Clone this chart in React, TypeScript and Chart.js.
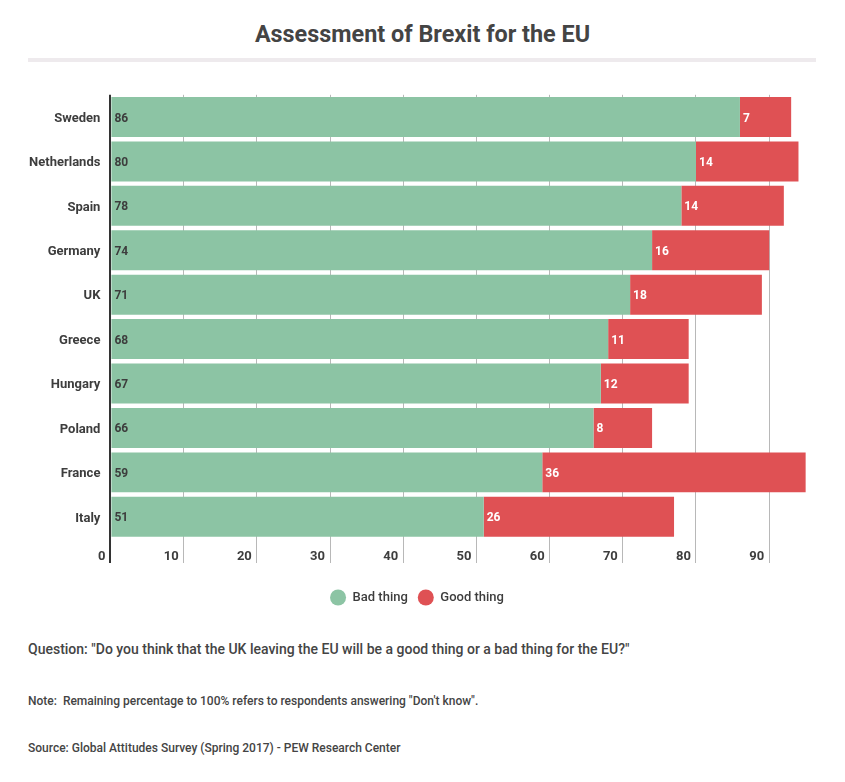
import React, { useEffect, useRef } from "react";
import { Chart, registerables } from "chart.js";

Chart.register(...registerables);

const countries = ["Sweden", "Netherlands", "Spain", "Germany", "UK", "Greece", "Hungary", "Poland", "France", "Italy"];
const badThing = [86, 80, 78, 74, 71, 68, 67, 66, 59, 51];
const goodThing = [7, 14, 14, 16, 18, 11, 12, 8, 36, 26];
const seriesNames = ["Bad thing", "Good thing"];
const xTickValues = [0, 10, 20, 30, 40, 50, 60, 70, 80, 90];
const xMax = 95;

const GREEN = "#8cc4a4";
const RED = "#df5154";
const TEXT = "#3d3d3d";
const FONT = "Roboto";

const valueLabels = {
  id: "valueLabels",
  afterDatasetsDraw(chart: any) {
    const ctx = chart.ctx;
    chart.data.datasets.forEach((ds: any, i: number) => {
      const meta = chart.getDatasetMeta(i);
      if (meta.hidden) return;
      meta.data.forEach((bar: any, j: number) => {
        const props = bar.getProps(["x", "y", "base"], true);
        ctx.save();
        ctx.font = `bold 12px ${FONT}`;
        ctx.fillStyle = i === 0 ? TEXT : "#ffffff";
        ctx.textAlign = "left";
        ctx.textBaseline = "middle";
        ctx.fillText(String(ds.data[j]), Math.min(props.x, props.base) + 3, props.y + 1.5);
        ctx.restore();
      });
    });
  },
};

// centre the legend on the page rather than on the padded chart box
const legendShift = {
  id: "legendShift",
  afterLayout(chart: any) {
    const lg = chart.legend;
    if (!lg) return;
    lg.left = 0;
    lg.right = 834;
    lg.width = 834;
  },
};

export default function App() {
  const canvasRef = useRef<HTMLCanvasElement | null>(null);

  useEffect(() => {
    if (!canvasRef.current) return;
    const chart = new Chart(canvasRef.current, {
      type: "bar",
      data: {
        labels: countries,
        datasets: [
          { label: seriesNames[0], data: badThing, backgroundColor: GREEN, borderWidth: 0 },
          { label: seriesNames[1], data: goodThing, backgroundColor: RED, borderWidth: 0 },
        ],
      },
      options: {
        indexAxis: "y",
        responsive: false,
        animation: false,
        devicePixelRatio: 1,
        layout: { padding: { top: 94.8, right: 39.2, left: 0, bottom: 0 } },
        datasets: { bar: { barPercentage: 0.9, categoryPercentage: 1 } },
        scales: {
          x: {
            stacked: true,
            min: 0,
            max: xMax,
            afterBuildTicks: (s: any) => {
              s.ticks = xTickValues.map((v) => ({ value: v }));
            },
            afterFit: (s: any) => {
              s.height = 42;
            },
            border: { display: false },
            grid: {
              color: (c: any) => (c.tick && c.tick.value === 0 ? "#333333" : "#b8b8b8"),
              lineWidth: (c: any) => (c.tick && c.tick.value === 0 ? 2 : 1),
              tickLength: 24,
            },
            ticks: {
              align: "end",
              labelOffset: -5,
              padding: -14,
              color: TEXT,
              font: { family: FONT, size: 13, weight: "bold" },
            },
          },
          y: {
            stacked: true,
            afterFit: (s: any) => {
              s.width = 110.4;
            },
            border: { display: false },
            grid: { display: false, drawTicks: false },
            ticks: {
              padding: 10,
              labelOffset: 1.5,
              color: TEXT,
              font: { family: FONT, size: 13, weight: "bold" },
            },
          },
        },
        plugins: {
          title: { display: false },
          tooltip: { enabled: false },
          legend: {
            position: "bottom",
            labels: {
              usePointStyle: true,
              pointStyle: "circle",
              pointStyleWidth: 16,
              boxHeight: 11.3,
              padding: 10,
              color: TEXT,
              font: { family: FONT, size: 13, weight: "500" },
            },
          },
        },
      },
      plugins: [valueLabels, legendShift],
    } as any);
    return () => chart.destroy();
  }, []);

  const textBase: React.CSSProperties = {
    position: "absolute",
    left: 28,
    margin: 0,
    color: "#444444",
    fontFamily: FONT,
    fontWeight: 500,
    whiteSpace: "nowrap",
  };

  return (
    <div style={{ position: "absolute", left: 0, top: 0, width: 845, height: 782, background: "#ffffff", overflow: "hidden" }}>
      <div
        style={{
          position: "absolute",
          left: 0,
          top: 22.5,
          width: 845,
          textAlign: "center",
          fontFamily: FONT,
          fontWeight: 700,
          fontSize: 23.4,
          lineHeight: "23px",
          color: "#444444",
        }}
      >
        Assessment of Brexit for the EU
      </div>
      <div style={{ position: "absolute", left: 28, top: 58, width: 788, height: 4, background: "#eeeaed" }} />
      <canvas ref={canvasRef} width={845} height={614} style={{ position: "absolute", left: 0, top: 0, width: 845, height: 614 }} />
      <div style={{ ...textBase, top: 641.5, fontSize: 14, lineHeight: "14px" }}>
        Question: "Do you think that the UK leaving the EU will be a good thing or a bad thing for the EU?"
      </div>
      <div style={{ ...textBase, top: 694.6, fontSize: 12, lineHeight: "12px" }}>
        Note:&nbsp; Remaining percentage to 100% refers to respondents answering "Don't know".
      </div>
      <div style={{ ...textBase, top: 742, fontSize: 12, lineHeight: "12px" }}>
        Source: Global Attitudes Survey (Spring 2017) - PEW Research Center
      </div>
    </div>
  );
}
